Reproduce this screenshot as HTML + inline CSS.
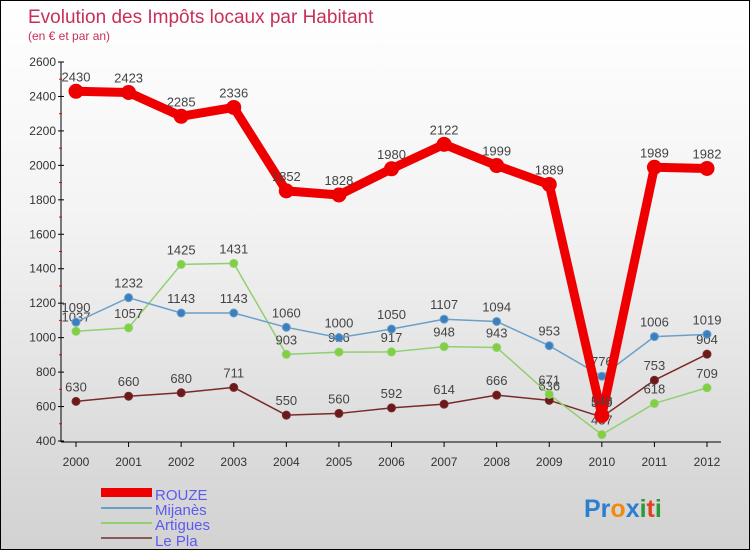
<!DOCTYPE html>
<html><head><meta charset="utf-8"><style>
body{margin:0;width:750px;height:550px;overflow:hidden;font-family:"Liberation Sans",sans-serif}
#wrap{position:relative;width:748px;height:548px;border:1px solid #000;background:linear-gradient(#fff 0%,#f3f3f3 40%,#dcdcdc 80%,#d2d2d2 100%)}
</style></head><body>
<div id="wrap">
<svg id="svg" width="748" height="548" xmlns="http://www.w3.org/2000/svg">
<text x="27" y="22" font-size="19" fill="#c8305a">Evolution des Impôts locaux par Habitant</text>
<text x="27" y="39" font-size="12" fill="#c8305a">(en € et par an)</text>
<g id="axes"></g><g id="series"></g>
<g font-size="15" fill="#5b5bef">
<rect x="100" y="487" width="51" height="9" fill="#e00"/>
<text x="154" y="499">ROUZE</text>
<rect x="100" y="506" width="51" height="2" fill="#6a9fc8"/>
<text x="154" y="514">Mijanès</text>
<rect x="100" y="521" width="51" height="2" fill="#90d070"/>
<text x="154" y="529">Artigues</text>
<rect x="100" y="536" width="51" height="2" fill="#8a5a5a"/>
<text x="154" y="545">Le Pla</text>
</g>
<text x="583" y="516" font-size="25" font-weight="bold"><tspan fill="#2a7fd0">Pr</tspan><tspan fill="#f08a10">o</tspan><tspan fill="#2a7fd0">x</tspan><tspan fill="#2a9a3a">i</tspan><tspan fill="#e04020">t</tspan><tspan fill="#2a9a3a">i</tspan></text>
</svg></div>
<script>
const years=[2000,2001,2002,2003,2004,2005,2006,2007,2008,2009,2010,2011,2012];
const rouze=[2430,2423,2285,2336,1852,1828,1980,2122,1999,1889,548,1989,1982];
const mijanes=[1090,1232,1143,1143,1060,1000,1050,1107,1094,953,776,1006,1019];
const artigues=[1037,1057,1425,1431,903,916,917,948,943,671,437,618,709];
const lepla=[630,660,680,711,550,560,592,614,666,636,539,753,904];
const yTicks=[400,600,800,1000,1200,1400,1600,1800,2000,2200,2400,2600];
const NS="http://www.w3.org/2000/svg";
const X=i=>75+i*(706-75)/12;
const Y=v=>440-(v-400)*(440-61)/2200;
function el(t,a,p){const e=document.createElementNS(NS,t);for(const k in a)e.setAttribute(k,a[k]);p.appendChild(e);return e;}
const ax=document.getElementById('axes');
let l=el('line',{x1:60,y1:61,x2:60,y2:441,stroke:'#000'},ax);


l=el('line',{x1:60,y1:441,x2:720,y2:441,stroke:'#000'},ax);


yTicks.forEach(v=>{
 el('line',{x1:57,y1:Y(v),x2:63,y2:Y(v),stroke:'#000'},ax);
 if(v<2600) el('line',{x1:58,y1:Y(v+100),x2:61,y2:Y(v+100),stroke:'#e00'},ax);
 const t=el('text',{x:55,y:Y(v)+4,'font-size':12,'text-anchor':'end',fill:'#333'},ax);t.textContent=v;
 
 
});
years.forEach((y,i)=>{
 el('line',{x1:X(i),y1:441,x2:X(i),y2:446,stroke:'#000'},ax);
 const t=el('text',{x:X(i),y:465,'font-size':12,'text-anchor':'middle',fill:'#333'},ax);t.textContent=y;
 
 
});
const sg=document.getElementById('series');
function draw(data,color,w,r,name,fill){
 const g=el('g',{},sg);
 
 
 const p=el('polyline',{points:data.map((v,i)=>X(i)+','+Y(v)).join(' '),fill:'none',stroke:color,'stroke-width':w,'stroke-linejoin':'round'},g);
 
 
 data.forEach((v,i)=>{
  const c=el('circle',{cx:X(i),cy:Y(v),r:r,fill:fill,stroke:color,'stroke-width':1},g);
  
  
  const t=el('text',{x:X(i),y:Y(v)-10,'font-size':13,'text-anchor':'middle',fill:'#444'},g);t.textContent=v;
  
  
 });
}
draw(lepla,'#7a2a2a',1.5,4,'le-pla','#6a1a1a');
draw(artigues,'#90d070',1.5,4,'artigues','#80d040');
draw(mijanes,'#6a9fc8',1.5,4,'mijanes','#3a7fc0');
draw(rouze,'#ee0000',9,7,'rouze','#ee0000');
</script>
</body></html>
